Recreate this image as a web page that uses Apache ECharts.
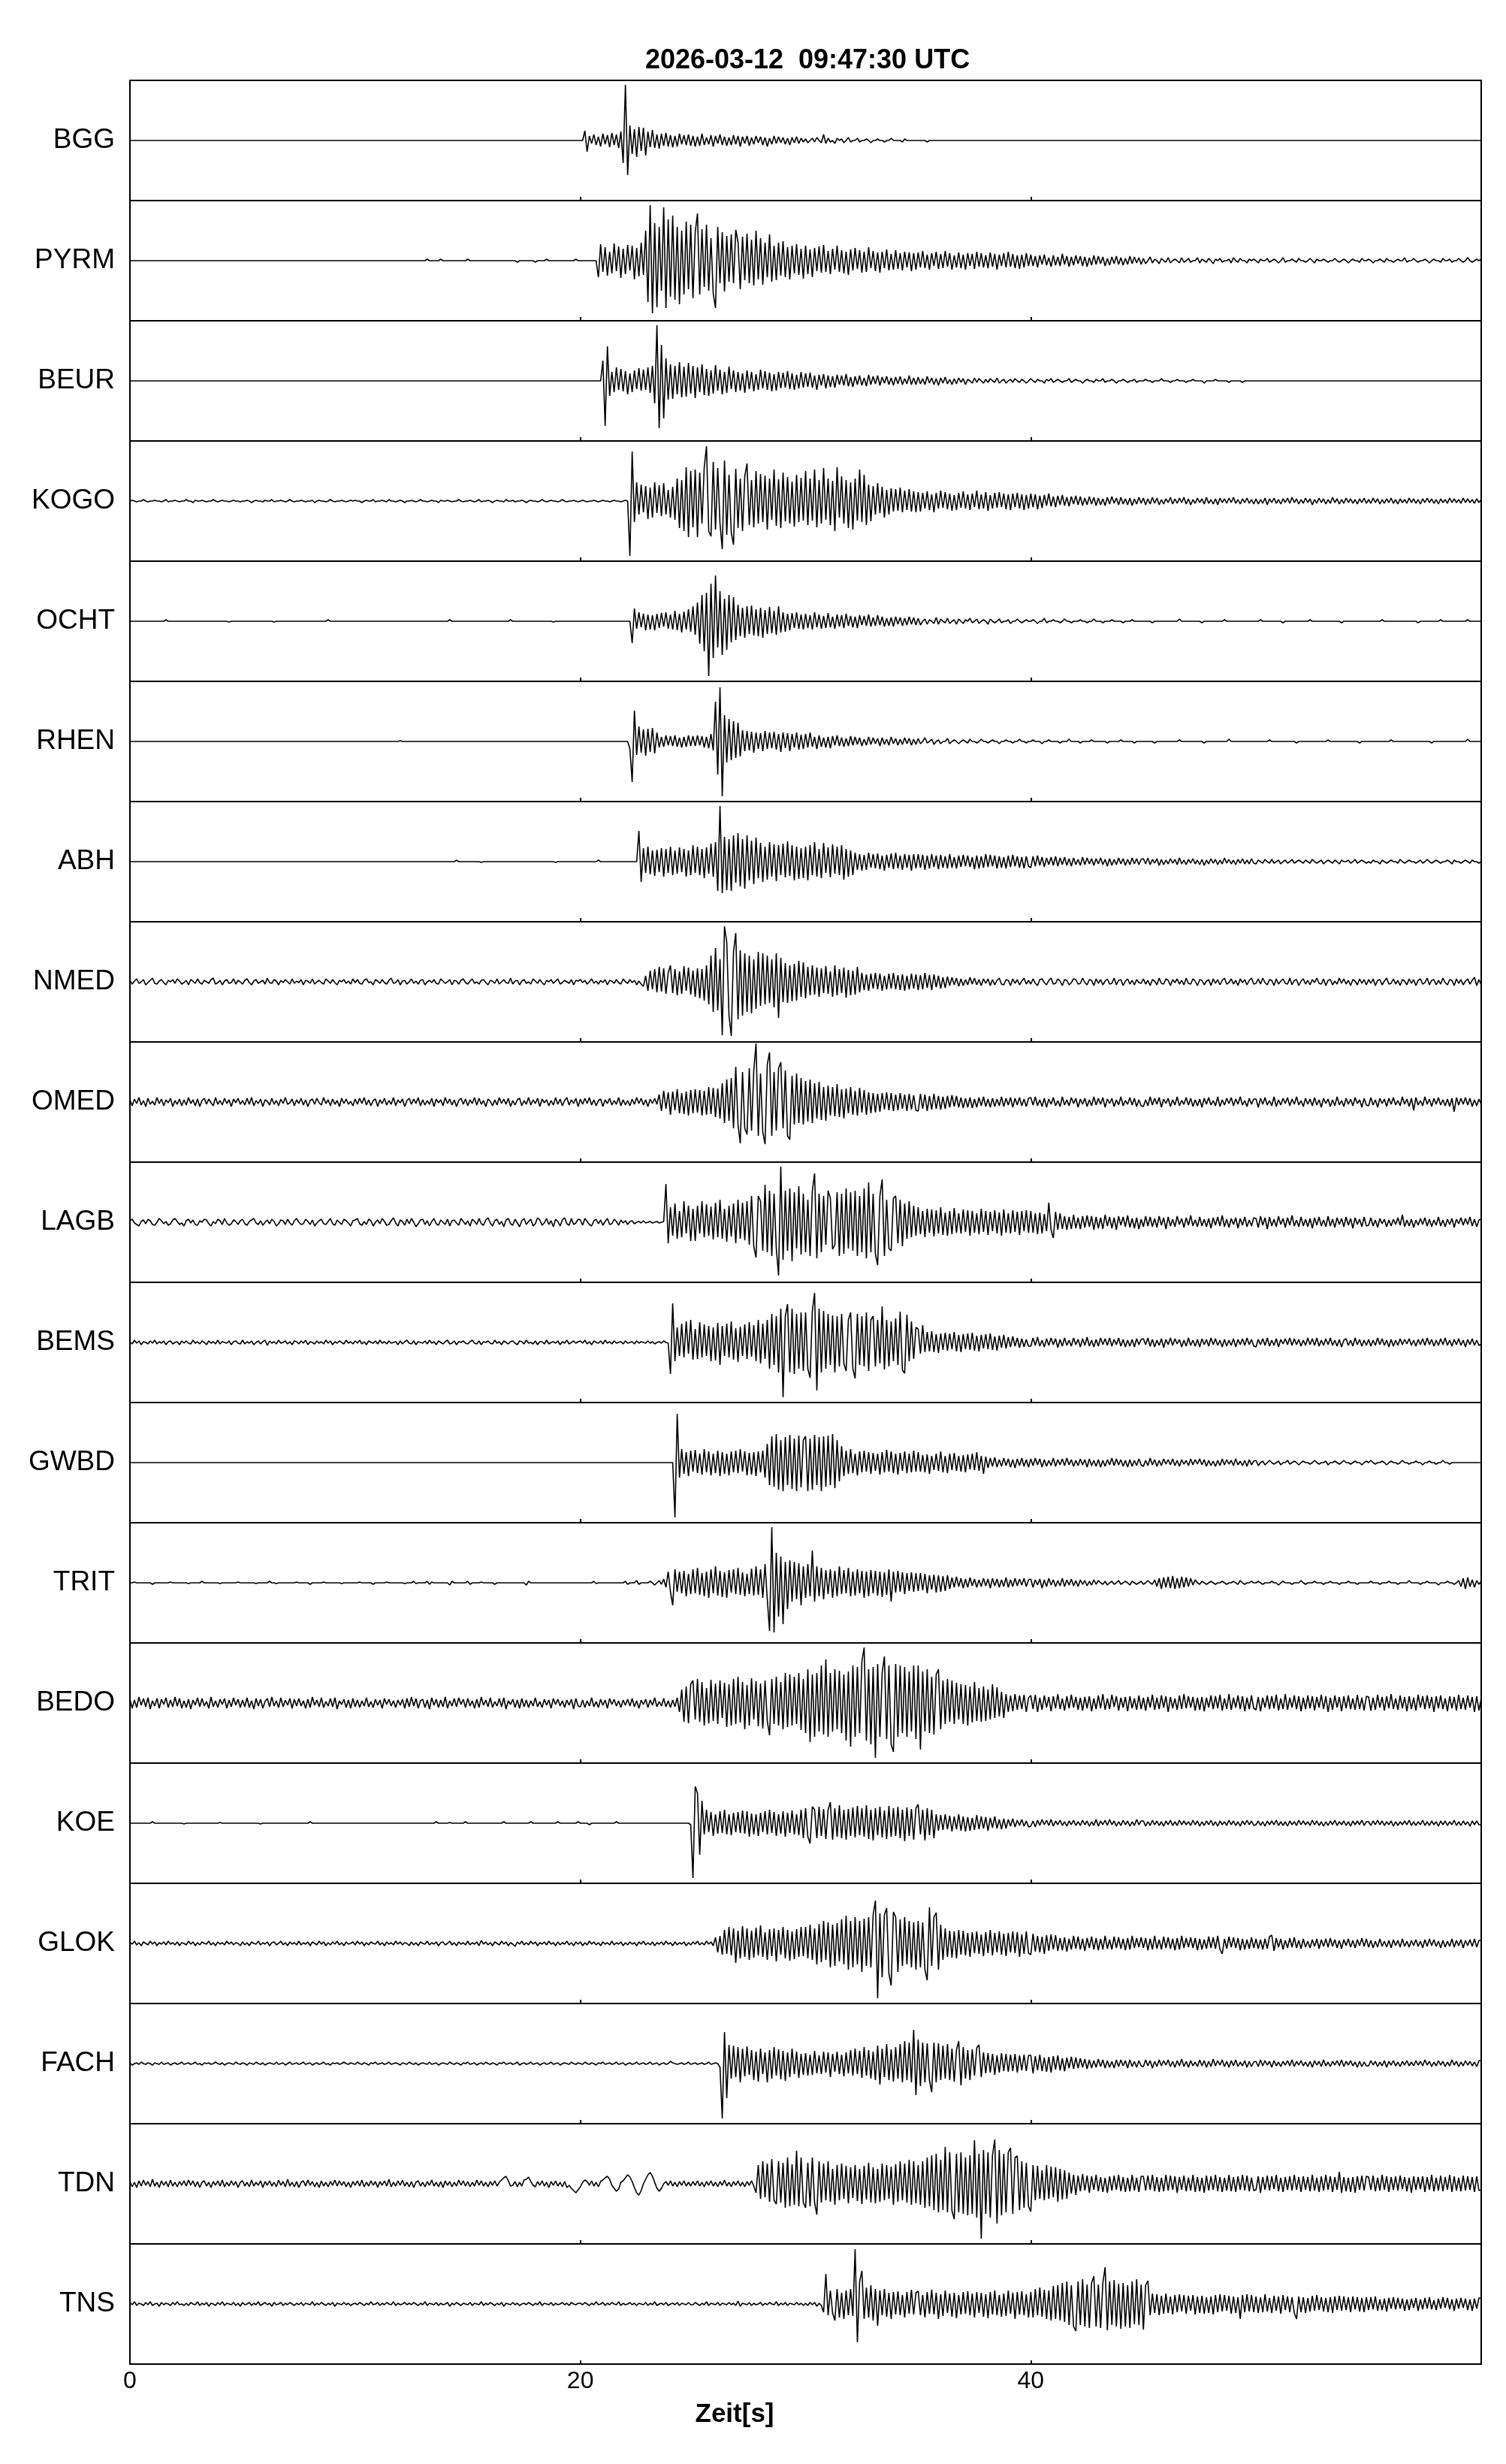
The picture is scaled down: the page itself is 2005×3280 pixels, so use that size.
<!DOCTYPE html>
<html><head><meta charset="utf-8">
<script src="https://cdn.jsdelivr.net/npm/echarts@6/dist/echarts.min.js"></script>
<style>html,body{margin:0;padding:0;background:#fff}#c{width:2005px;height:3280px}</style>
</head><body><div id="c"></div>
<script>
// sample spacing in seconds (each row below = 5 s = 50 samples)
const DT = 0.1;
const stations = ['BGG','PYRM','BEUR','KOGO','OCHT','RHEN','ABH','NMED','OMED','LAGB','BEMS','GWBD','TRIT','BEDO','KOE','GLOK','FACH','TDN','TNS'];
const xTickLabels = [0, 20, 40];
const titleText = '2026-03-12  09:47:30 UTC';
const xName = 'Zeit[s]';

const BGG = [
0,0,0,0,0,0,0,0,0,0, 0,0,0,0,0,0,0,0,0,0, 0,0,0,0,0,0,0,0,0,0, 0,0,0,0,0,0,0,0,0,0, 0,0,0,0,0,0,0,0,0,0,
0,0,0,0,0,0,0,0,0,0, 0,0,0,0,0,0,0,0,0,0, 0,0,0,0,0,0,0,0,0,0, 0,0,0,0,0,0,0,0,0,0, 0,0,0,0,0,0,0,0,0,0,
0,0,0,0,0,0,0,0,0,0, 0,0,0,0,0,0,0,0,0,0, 0,0,0,0,0,0,0,0,0,0, 0,0,0,0,0,0,0,0,0,0, 0,0,0,0,0,0,0,0,0,0,
0,0,0,0,0,0,0,0,0,0, 0,0,0,0,0,0,0,0,0,0, 0,0,0,0,0,0,0,0,0,0, 0,0,0,0,0,0,0,0,0,0, 0,0,0,0,0,0,0,0,0,0,
0,0,13,-15,6,-4,8,-6,5,-8, 9,-5,7,-9,10,-6,8,-10,12,-30, 74,-46,20,-18,15,-22,18,-14,17,-20, 12,-9,14,-10,8,-11,9,-7,10,-8, 7,-9,6,-8,9,-5,7,-6,8,-7,
6,-8,5,-7,9,-6,4,-5,7,-8, 6,-4,8,-6,5,-7,4,-6,7,-5, 6,-8,5,-4,6,-7,4,-5,6,-3, 5,-6,4,-8,3,-5,6,-4,5,-3, 4,-5,3,-6,4,-3,5,-4,3,-2,
2,-3,0,3,-2,4,0,-3,8,-4, 3,-2,0,-4,3,0,2,-3,0,4, -2,0,0,3,-2,0,0,2,0,-3, 0,0,2,0,0,-2,0,0,3,0, 0,0,0,-2,2,0,0,0,0,0,
0,0,0,0,-2,0,0,0,0,0, 0,0,0,0,0,0,0,0,0,0, 0,0,0,0,0,0,0,0,0,0, 0,0,0,0,0,0,0,0,0,0, 0,0,0,0,0,0,0,0,0,0,
0,0,0,0,0,0,0,0,0,0, 0,0,0,0,0,0,0,0,0,0, 0,0,0,0,0,0,0,0,0,0, 0,0,0,0,0,0,0,0,0,0, 0,0,0,0,0,0,0,0,0,0,
0,0,0,0,0,0,0,0,0,0, 0,0,0,0,0,0,0,0,0,0, 0,0,0,0,0,0,0,0,0,0, 0,0,0,0,0,0,0,0,0,0, 0,0,0,0,0,0,0,0,0,0,
0,0,0,0,0,0,0,0,0,0, 0,0,0,0,0,0,0,0,0,0, 0,0,0,0,0,0,0,0,0,0, 0,0,0,0,0,0,0,0,0,0, 0,0,0,0,0,0,0,0,0,0,
0,0,0,0,0,0,0,0,0,0, 0,0,0,0,0,0,0,0,0,0, 0,0,0,0,0,0,0,0,0,0, 0,0,0,0,0,0,0,0,0,0, 0,0,0,0,0,0,0,0,0,0,
0];
const PYRM = [
0,0,0,0,0,0,0,0,0,0, 0,0,0,0,0,0,0,0,0,0, 0,0,0,0,0,0,0,0,0,0, 0,0,0,0,0,0,0,0,0,0, 0,0,0,0,0,0,0,0,0,0,
0,0,0,0,0,0,0,0,0,0, 0,0,0,0,0,0,0,0,0,0, 0,0,0,0,0,0,0,0,0,0, 0,0,0,0,0,0,0,0,0,0, 0,0,0,0,0,0,0,0,0,0,
0,0,0,0,0,0,0,0,0,0, 0,0,0,0,0,0,0,0,0,0, 0,0,0,0,0,0,0,0,0,0, 0,0,2,0,0,0,0,0,2,0, 0,0,0,0,0,0,0,0,0,0,
2,0,0,0,0,0,0,0,0,0, 0,0,0,0,0,0,0,0,0,0, 0,0,-2,0,0,0,0,0,0,0, -2,0,0,0,0,2,0,0,0,0, 0,0,0,0,0,0,0,0,2,0,
0,0,0,0,0,0,0,0,-22,22, -15,18,-20,12,-17,23,-14,19,-23,16, -18,21,-13,20,-25,17,-21,24,-19,40, -55,74,-70,50,-62,45,-40,71,-63,55, -48,60,-52,45,-58,40,-45,52,-38,48,
-50,38,63,-45,42,-35,48,-40,30,-44, -63,45,-30,38,-41,33,-28,35,-30,41, 25,-38,32,-26,36,-30,28,-33,40,-25, 30,-32,24,-22,35,-28,20,-26,24,-20, 26,-22,18,-25,20,-17,22,-19,16,-24,
20,-18,15,-22,17,-14,19,-16,21,-15, 13,-18,16,-12,20,-15,14,-17,12,-19, 15,-13,17,-11,14,-16,12,-15,18,-10, 13,-14,11,-16,12,-10,15,-13,9,-12, 14,-11,10,-13,12,-9,11,-14,10,-12,
11,-9,13,-10,8,-12,10,-7,12,-11, 9,-10,13,-8,10,-12,7,-9,11,-10, 8,-12,10,-7,9,-11,12,-8,10,-9, 7,-10,11,-8,9,-12,8,-7,10,-9, 12,-8,9,-10,7,-11,8,-9,10,-7,
8,-7,6,-9,7,-5,8,-6,4,-8, 7,-6,5,-7,9,-5,6,-8,5,-6, 7,-4,6,-7,5,-8,4,-6,7,-5, 6,-4,5,-7,3,-6,5,-4,6,-5, 4,-6,3,-5,6,-4,5,-3,4,-5,
3,-4,0,5,-3,2,0,-4,3,0, -2,4,-3,0,2,0,-3,4,-2,0, 3,-2,0,0,4,-3,2,0,-2,3, 0,-4,2,0,3,-2,0,0,2,-3, 4,0,-2,3,0,0,-3,2,0,2,
0,-3,2,0,0,3,-2,0,2,0, -3,0,4,-2,0,0,2,0,-2,3, 0,0,-2,0,3,0,-3,2,0,0, 2,0,-2,0,0,3,0,-2,0,2, 0,-3,0,2,0,0,-2,3,0,0,
2,0,-3,0,0,2,0,-2,3,0, 0,-2,0,2,0,0,4,-2,0,0, 3,0,-2,0,0,2,0,-3,0,2, 0,0,-2,3,0,0,2,-2,0,0, 3,0,-2,0,4,0,-2,0,2,0,
2];
const BEUR = [
0,0,0,0,0,0,0,0,0,0, 0,0,0,0,0,0,0,0,0,0, 0,0,0,0,0,0,0,0,0,0, 0,0,0,0,0,0,0,0,0,0, 0,0,0,0,0,0,0,0,0,0,
0,0,0,0,0,0,0,0,0,0, 0,0,0,0,0,0,0,0,0,0, 0,0,0,0,0,0,0,0,0,0, 0,0,0,0,0,0,0,0,0,0, 0,0,0,0,0,0,0,0,0,0,
0,0,0,0,0,0,0,0,0,0, 0,0,0,0,0,0,0,0,0,0, 0,0,0,0,0,0,0,0,0,0, 0,0,0,0,0,0,0,0,0,0, 0,0,0,0,0,0,0,0,0,0,
0,0,0,0,0,0,0,0,0,0, 0,0,0,0,0,0,0,0,0,0, 0,0,0,0,0,0,0,0,0,0, 0,0,0,0,0,0,0,0,0,0, 0,0,0,0,0,0,0,0,0,0,
0,0,0,0,0,0,0,0,0,0, 27,-60,46,-20,12,-15,18,-12,16,-14, 13,-18,10,-15,14,-11,17,-13,15,-12, 18,-16,20,-30,74,-63,48,-50,30,-25, 22,-24,20,-18,25,-22,19,-21,24,-17,
20,-23,18,-15,22,-19,16,-20,14,-17, 21,-13,15,-18,12,-16,19,-11,14,-15, 12,-13,10,-16,14,-11,12,-14,9,-12, 15,-10,13,-12,11,-14,9,-13,12,-10, 11,-9,13,-11,10,-12,8,-10,12,-9,
10,-8,11,-9,7,-12,8,-6,9,-10, 7,-8,6,-9,8,-5,7,-6,9,-7, 5,-8,6,-5,7,-6,4,-7,8,-5, 6,-4,7,-6,5,-3,6,-5,4,-6, 5,-4,6,-5,3,-4,7,-5,4,-5,
5,-4,3,-5,6,-3,4,-5,3,-6, 4,-3,5,-4,2,-5,3,-4,4,-2, 3,-5,2,0,-3,4,-2,3,0,-3, 2,-2,3,0,-2,4,-3,0,2,-3, 0,2,-2,3,0,-2,2,0,-3,0,
3,0,-2,2,0,0,-3,2,0,3, -2,0,2,0,-2,0,0,3,-2,0, 2,0,0,-3,0,2,0,0,-2,2, 0,0,3,-2,0,0,2,0,-3,0, 0,2,0,-2,0,0,2,-2,0,0,
0,2,0,0,-2,0,0,0,3,0, 0,0,-2,0,0,2,0,0,0,-2, 0,0,2,0,0,0,0,-3,0,0, 0,0,2,0,0,0,0,0,-2,0, 0,0,0,0,-2,0,0,0,0,0,
0,0,0,0,0,0,0,0,0,0, 0,0,0,0,0,0,0,0,0,0, 0,0,0,0,0,0,0,0,0,0, 0,0,0,0,0,0,0,0,0,0, 0,0,0,0,0,0,0,0,0,0,
0,0,0,0,0,0,0,0,0,0, 0,0,0,0,0,0,0,0,0,0, 0,0,0,0,0,0,0,0,0,0, 0,0,0,0,0,0,0,0,0,0, 0,0,0,0,0,0,0,0,0,0,
0];
const KOGO = [
0,1,0,-1,0,0,2,0,-1,0, 0,1,0,0,-1,0,2,-1,0,0, 1,0,-1,0,0,2,0,0,-2,1, 0,0,1,0,-1,0,0,2,0,-1, 0,1,0,0,-1,0,1,0,0,-1,
0,0,1,0,-2,0,1,0,0,-1, 1,0,0,2,-1,0,0,1,0,-1, 0,2,0,-1,0,0,1,0,-1,0, 0,1,-2,0,1,0,0,-1,0,2, 0,-1,0,0,1,0,-1,0,1,0,
1,0,0,-2,0,1,0,0,2,-1, 0,0,1,0,-1,2,0,0,-1,0, 1,0,-2,0,0,1,0,-1,0,2, 0,0,-1,0,1,0,0,-2,1,0, 0,1,0,-1,0,0,2,0,-1,0,
0,1,0,-1,0,2,-1,0,0,1, 0,-2,0,1,0,0,-1,2,0,0, 1,-1,0,0,1,0,-2,0,1,0, 0,-1,0,2,0,-1,0,1,0,0, -1,0,2,0,-1,0,0,1,0,-1,
0,1,0,-1,0,0,1,0,-1,0, 1,0,0,-1,0,1,0,0,-1,0, 1,0,-73,66,-28,25,-18,22,-15,20, -24,18,-22,25,-16,21,-20,24,-18,15, -22,19,-25,30,-36,28,-40,45,-48,40,
-35,42,-48,38,-30,45,73,-40,-47,52, -38,44,-30,-64,54,-45,35,-42,-58,43, -36,30,-40,33,50,-32,28,-35,40,-30, 36,-28,34,-38,30,-25,42,-33,29,-36, 38,-27,32,-30,26,-34,35,-28,31,-26,
40,-32,30,-26,42,-35,28,-30,44,-25, 30,-32,27,-40,45,-22,33,-30,28,-36, 25,-38,30,-26,42,-28,35,-32,22,-27, 20,-18,24,-16,19,-22,15,-18,17,-14, 16,-13,18,-15,14,-12,16,-14,13,-15,
12,-14,11,-10,13,-12,9,-15,11,-10, 14,-9,12,-11,10,-13,8,-12,11,-9, 13,-10,9,-12,10,-8,14,-11,9,-10, 12,-13,8,-10,11,-9,12,-8,10,-11, 9,-12,10,-8,11,-10,9,-12,8,-10,
10,-8,9,-11,7,-9,8,-6,10,-7, 6,-8,7,-5,8,-6,5,-7,6,-4, 7,-5,6,-6,4,-5,6,-4,5,-6, 4,-5,3,-6,5,-4,6,-3,4,-5, 5,-4,3,-5,4,-6,3,-4,5,-3,
4,-5,3,-4,5,-3,4,-5,2,-4, 3,-2,5,-4,3,-3,4,-2,5,-4, 3,-5,2,-3,4,-2,3,-4,5,-3, 2,-4,3,-5,4,-2,3,-3,4,-2, 5,-3,2,-4,3,-2,4,-3,2,-4,
3,-4,2,-3,4,-5,3,-2,4,-3, 2,-4,3,-2,4,-3,5,-2,3,-4, 2,-3,4,-2,3,-5,2,-3,4,-2, 3,-4,2,-3,5,-2,3,-4,2,-3, 4,-2,3,-3,2,-4,3,-2,4,-3,
2,-3,4,-2,3,-4,2,-3,3,-2, 4,-3,2,-4,3,-2,2,-3,4,-2, 3,-3,2,-4,3,-2,4,-2,3,-3, 2,-4,3,-2,2,-3,4,-2,3,-2, 2,-3,4,-2,3,-2,2,-3,3,-2,
2];
const OCHT = [
0,0,0,0,0,0,0,0,0,0, 0,0,0,0,0,0,2,0,0,0, 0,0,0,0,0,0,0,0,0,0, 0,0,0,0,0,0,0,0,0,0, 0,0,0,0,-1,0,0,0,0,0,
0,0,0,0,0,0,0,0,0,0, 0,0,0,0,-1,0,0,0,0,0, 0,0,0,0,0,0,0,0,0,0, 0,0,0,0,0,0,0,0,2,0, 0,0,0,0,0,0,0,0,0,0,
0,0,0,0,0,0,0,0,0,0, 0,0,0,0,0,0,0,0,0,0, 0,0,0,0,0,0,0,0,0,0, 0,0,0,0,0,0,0,0,0,0, 0,0,2,0,0,0,0,0,0,0,
0,0,0,0,0,0,0,0,0,0, 0,0,0,0,0,0,0,0,0,2, 0,0,0,0,0,0,0,0,0,0, 0,0,0,0,0,0,0,0,-1,0, 0,0,0,0,0,0,0,0,0,0,
0,0,0,0,0,0,0,0,0,0, 0,0,0,0,0,0,0,0,0,0, 0,0,0,-29,17,-10,12,-8,10,-12, 9,-11,8,-12,10,-9,11,-7,12,-10, 9,-11,14,-12,10,-15,13,-11,16,-14,
20,-18,25,-30,35,-40,38,-73,50,-49, 61,-35,40,-45,30,-38,35,-28,32,-25, 22,-20,18,-22,20,-17,21,-19,16,-20, 18,-22,15,-17,19,-16,14,-18,20,-15, 12,-14,10,-12,11,-9,12,-10,9,-11,
10,-9,8,-11,12,-8,9,-10,7,-9, 11,-8,6,-10,9,-7,8,-9,10,-6, 7,-8,6,-9,8,-5,7,-6,9,-7, 5,-6,8,-5,6,-7,4,-6,5,-7, 6,-4,5,-6,4,-5,6,-4,5,-5,
4,-5,0,3,-4,2,0,-3,5,-4, 3,0,-2,4,-3,0,2,-4,3,0, -3,2,0,4,-2,0,3,-3,0,2, 0,-4,3,0,-2,0,3,-2,0,0, 2,-3,0,0,3,0,-2,0,2,0,
0,2,0,-3,0,0,4,-2,0,0, 2,0,0,-2,0,3,0,0,-2,0, 0,0,2,0,0,-2,0,0,3,0, 0,0,-2,0,0,0,2,0,0,0, 0,-2,0,0,0,2,0,0,0,0,
0,0,0,0,-2,0,0,0,0,0, 0,0,0,0,0,0,3,0,0,0, 0,0,0,0,0,0,-2,0,0,0, 0,0,0,0,0,0,2,0,0,0, 0,0,0,0,0,0,0,0,0,0,
0,0,2,0,0,0,0,0,0,0, 0,0,-2,0,0,0,0,0,0,0, 0,0,0,0,2,0,0,0,0,0, 0,0,0,0,0,0,0,0,-2,0, 0,0,0,0,0,0,0,0,0,0,
0,0,0,0,0,0,2,0,0,0, 0,0,0,0,0,0,0,0,0,0, 0,0,-2,0,0,0,0,0,0,0, 0,0,2,0,0,0,0,0,0,0, 0,0,0,0,2,0,0,0,0,0,
0];
const RHEN = [
0,0,0,0,0,0,0,0,0,0, 0,0,0,0,0,0,0,0,0,0, 0,0,0,0,0,0,0,0,0,0, 0,0,0,0,0,0,0,0,0,0, 0,0,0,0,0,0,0,0,0,0,
0,0,0,0,0,0,0,0,0,0, 0,0,0,0,0,0,0,0,0,0, 0,0,0,0,0,0,0,0,0,0, 0,0,0,0,0,0,0,0,0,0, 0,0,0,0,0,0,0,0,0,0,
0,0,0,0,0,0,0,0,0,0, 0,0,0,0,0,0,0,0,0,0, 1,0,0,0,0,0,0,0,0,0, 0,0,0,0,0,0,0,0,0,0, 0,0,0,0,0,0,0,0,0,0,
0,0,0,0,0,0,0,0,0,0, 0,0,0,0,0,0,0,0,0,0, 0,0,0,0,0,0,0,0,0,0, 0,0,0,0,0,0,0,0,0,0, 0,0,0,0,0,0,0,0,0,0,
0,0,0,0,0,0,0,0,0,0, 0,0,0,0,0,0,0,0,0,0, 0,0,-10,-54,41,-18,20,-15,16,-19, 17,-14,18,-16,12,-8,6,-7,8,-5, 7,-6,8,-7,5,-8,6,-7,8,-6,
7,-6,8,-5,7,-8,6,-9,10,-12, 53,-44,72,-73,35,-28,30,-25,27,-22, 25,-20,15,-13,14,-12,13,-15,12,-10, 11,-13,14,-10,12,-9,13,-11,10,-14, 12,-9,11,-13,10,-8,12,-11,9,-10,
10,-8,12,-7,6,-10,8,-7,5,-8, 6,-9,7,-5,8,-6,5,-7,4,-6, 7,-5,6,-4,5,-6,3,-5,6,-4, 5,-3,4,-6,5,-4,3,-5,6,-3, 4,-5,3,-4,5,-3,4,-5,3,-4,
4,-3,0,5,-2,0,3,-4,0,2, -3,0,0,4,-3,0,2,0,-3,0, 2,0,-2,3,0,0,-2,0,3,0, 0,-2,0,2,0,0,-3,0,0,2, 0,0,-2,0,0,3,0,0,-2,0,
0,2,0,0,0,-3,0,0,2,0, 0,0,0,-2,0,0,0,3,0,0, 0,0,-2,0,0,0,0,2,0,0, 0,0,0,0,-2,0,0,0,0,0, 2,0,0,0,0,0,-2,0,0,0,
0,0,0,0,0,-2,0,0,0,0, 0,0,0,0,0,0,2,0,0,0, 0,0,0,0,0,0,0,-2,0,0, 0,0,0,0,0,0,0,0,3,0, 0,0,0,0,0,0,0,0,0,0,
0,0,0,0,0,0,2,0,0,0, 0,0,0,0,0,0,0,0,-2,0, 0,0,0,0,0,0,0,0,0,0, 0,0,2,0,0,0,0,0,0,0, 0,0,0,0,0,0,-2,0,0,0,
0,0,0,0,0,0,0,0,0,0, 2,0,0,0,0,0,0,0,0,0, 0,0,0,0,0,0,0,0,-2,0, 0,0,0,0,0,0,0,0,0,0, 0,0,0,0,3,0,0,0,0,0,
0];
const ABH = [
0,0,0,0,0,0,0,0,0,0, 0,0,0,0,0,0,0,0,0,0, 0,0,0,0,0,0,0,0,0,0, 0,0,0,0,0,0,0,0,0,0, 0,0,0,0,0,0,0,0,0,0,
0,0,0,0,0,0,0,0,0,0, 0,0,0,0,0,0,0,0,0,0, 0,0,0,0,0,0,0,0,0,0, 0,0,0,0,0,0,0,0,0,0, 0,0,0,0,0,0,0,0,0,0,
0,0,0,0,0,0,0,0,0,0, 0,0,0,0,0,0,0,0,0,0, 0,0,0,0,0,0,0,0,0,0, 0,0,0,0,0,0,0,0,0,0, 0,0,0,0,0,2,0,0,0,0,
0,0,0,0,0,0,-1,0,0,0, 0,0,0,0,0,0,0,0,0,0, 0,0,0,0,0,0,0,0,0,0, 0,0,0,0,0,0,0,0,0,-1, 0,0,0,0,0,0,0,0,0,0,
0,0,0,0,0,0,0,0,2,0, 0,0,0,0,0,0,0,0,0,0, 0,0,0,0,0,0,41,-27,18,-15, 20,-17,15,-19,16,-14,18,-20,17,-15, 20,-18,15,-16,19,-14,17,-20,15,-18,
22,-15,20,-18,17,-22,19,-16,24,-20, 26,-39,74,-42,33,-38,30,-39,35,-28, 38,-33,30,-36,35,-25,28,-30,32,-22, 25,-27,20,-24,26,-20,23,-26,22,-18, 24,-21,27,-19,22,-25,20,-23,18,-22,
20,-25,22,-18,26,-20,17,-22,25,-15, 19,-21,23,-16,20,-18,22,-24,17,-20, 15,-18,12,-11,10,-12,9,-11,12,-8, 10,-9,11,-10,8,-12,9,-8,11,-10, 12,-9,8,-11,10,-8,9,-12,10,-9,
10,-8,9,-11,8,-9,10,-7,8,-10, 9,-8,7,-9,10,-8,6,-9,8,-7, 9,-6,8,-7,6,-10,8,-9,7,-8, 10,-7,9,-6,8,-9,7,-8,6,-9, 8,-7,9,-6,7,-8,6,-9,7,-6,
-8,7,-6,8,-5,6,-7,5,-4,6, -5,7,-6,5,-4,6,-5,4,-6,5, -4,3,-5,6,-4,5,-3,4,-5,4, -3,5,-4,3,-6,4,-5,3,-4,5, -3,4,-5,3,-4,5,-3,4,-4,3,
4,-3,5,-4,3,-2,4,-5,3,-4, 2,-3,4,-2,3,-4,5,-3,2,-4, 3,-2,4,-3,2,-4,3,-5,2,-3, 4,-2,3,-4,2,-3,5,-2,3,-3, 2,-4,3,-2,4,-3,2,-3,4,-2,
-3,2,0,-2,3,0,-2,3,-2,0, 2,-3,0,2,-2,0,3,-2,0,2, 0,-2,2,0,-2,3,0,-2,0,2, -3,0,2,0,-2,2,0,-3,2,0, 0,2,-2,0,3,-2,0,2,0,-2,
0,-2,2,0,0,-3,2,0,-2,0, 2,0,0,-2,3,0,-2,0,2,0, 0,-2,0,2,-2,0,3,0,-2,0, 2,0,-2,0,0,2,0,-3,2,0, 0,-2,0,2,0,-2,2,0,0,-2,
0];
const NMED = [
2,-3,1,4,-2,0,3,-4,-1,2, 5,-2,-3,1,3,-1,-4,2,0,3, -2,4,1,-3,-1,2,-4,3,1,-2, 4,-1,-3,2,0,-2,3,5,-3,-1, 2,-4,1,3,-2,-1,4,-3,2,0,
-3,2,4,-1,-4,1,3,-2,0,2, -3,5,-1,-2,3,1,-4,2,-1,3, 0,-3,4,-2,1,-1,3,-4,2,1, -2,4,-3,0,2,-1,-3,4,1,-2, 3,-1,-4,2,0,3,-2,1,-3,4,
-1,3,-2,-3,2,4,-1,0,-4,3, 1,-2,3,-1,-3,2,5,-2,-1,3, -4,1,2,-3,0,4,-2,1,-3,2, 3,-4,0,2,-1,3,-2,-3,4,1, -2,0,3,-4,2,1,-3,2,4,-1,
-3,1,4,-2,0,-3,2,3,-1,-4, 2,1,-2,4,-3,0,3,-1,-2,5, -3,1,2,-4,1,3,-2,0,-3,4, 1,-2,3,-1,-4,2,0,3,-2,1, 4,-3,-1,2,0,-2,3,-4,2,1,
3,-1,2,-3,0,4,-2,1,-3,2, -1,3,-4,2,1,-2,3,-1,-3,4, 0,-2,3,-1,2,-4,1,-3,-6,8, -12,15,-10,17,-14,20,-13,18,-16,12, 22,-15,17,-18,14,-16,21,-12,19,-17,
15,-20,18,-22,17,-25,22,-30,35,-40, 45,-38,30,-71,74,53,-45,-72,40,65, -50,42,-45,38,-40,35,-42,30,-36,40, -32,38,-30,35,-28,30,-34,38,-48,32, -27,25,-28,22,-26,24,-25,28,-20,26,
-22,20,-18,22,-17,19,-20,18,-15,21, -16,14,-20,22,-18,17,-15,19,-21,16, -18,15,-17,20,-14,12,-11,10,-12,11, -9,12,-10,11,-12,8,-10,11,-9,12, -10,9,-11,10,-12,8,-10,11,-9,10,
-11,9,-10,12,-8,9,-11,10,-7,8, -9,6,-8,7,-5,6,-4,5,-6,4, -5,3,-4,6,-3,5,-4,3,-5,4, -2,4,-5,3,-4,2,5,-3,-4,3, 2,-5,4,-2,3,-4,1,5,-3,2,
-3,4,-2,-5,3,4,-1,-4,2,5, -3,-2,4,1,-5,3,2,-4,-1,4, 3,-3,-2,5,-1,-4,3,2,-5,4, -2,3,-4,1,4,-3,-2,5,-4,2, 3,-5,1,4,-3,2,-4,3,-1,-2,
4,-3,2,-5,3,1,-4,5,-2,-3, 4,2,-5,3,-1,4,-3,2,-4,5, -2,-3,4,1,-5,3,2,-4,1,3, -5,4,-2,3,-4,2,5,-3,-1,4, -3,2,-5,4,-1,3,-4,2,5,-3,
-2,4,-3,5,-1,-4,3,2,-5,4, -3,1,4,-2,-3,5,-4,2,3,-5, 1,4,-3,2,-4,3,-1,5,-2,-3, 4,-5,2,3,-4,1,-3,5,-2,4, -3,2,-5,3,1,-4,4,-2,3,-4,
3,-2,4,-5,2,3,-4,1,5,-3, -2,4,-3,2,-5,3,1,-4,4,-2, 3,-5,2,4,-3,-1,5,-4,2,3, -4,2,-3,5,-1,-4,3,2,-5,4, -2,3,-4,1,4,-3,2,6,-5,3,
-4];
const OMED = [
3,-5,4,-2,6,-4,2,-6,5,-3, 1,-4,6,-2,4,-5,3,-1,5,-6, 2,-3,4,-5,3,-4,6,-2,3,-5, 4,-6,2,5,-3,4,-1,-5,6,-3, 2,-4,5,-2,3,-6,4,-1,5,-3,
2,-4,5,-3,6,-5,2,-2,4,-6, 3,1,-4,5,-3,2,-5,4,-2,6, -3,-1,4,-5,3,-2,5,-4,3,-6, 2,4,-3,5,-1,-4,6,-2,3,-5, 4,-3,2,-6,5,-2,4,-3,1,-5,
4,-3,5,-2,6,-4,3,-5,2,4, -6,3,-2,5,-4,2,-3,6,-5,3, -1,4,-6,2,5,-3,4,-2,6,-5, 3,-4,2,-3,5,-6,4,-1,3,-5, 6,-2,4,-4,3,-6,2,5,-3,4,
-5,3,-2,6,-4,5,-3,2,-6,4, 1,-5,3,-4,6,-2,4,-3,5,-6, 2,-4,3,5,-5,2,-3,6,-4,3, -2,5,-6,4,-1,3,-5,2,-4,6, -3,4,-5,2,6,-4,3,-2,5,-6,
4,-3,5,-2,6,-4,3,-5,2,4, -6,3,-2,5,-4,2,-3,6,-5,3, -4,2,-5,4,-3,6,-2,5,-4,3, -6,4,-2,5,-3,10,-12,15,-9,13, -17,14,-11,17,-15,12,-16,14,-18,16,
-15,17,-14,16,-18,15,-17,20,-16,19, -20,18,-22,25,-28,30,-25,32,-35,47, -30,-55,40,-35,-43,45,-38,42,78,-45, 38,-40,-56,50,66,-45,40,-38,45,53, -35,42,-45,-50,35,-30,38,-28,32,-30,
28,-26,30,-28,25,-22,27,-24,20,-25, 22,-18,20,-19,24,-20,17,-22,18,-15, 20,-17,15,-18,19,-14,16,-17,13,-15, 12,-14,11,-13,12,-10,13,-11,12,-12, 10,-11,12,-9,10,-12,11,-10,9,-11,
-12,11,-9,10,-12,8,-10,11,-9,8, -10,7,-9,8,-7,9,-6,8,-7,6, -8,5,-7,6,-8,4,-7,6,-5,7, -6,4,-7,5,-6,4,-5,7,-6,5, -4,6,-7,5,-4,6,-5,4,-6,5,
6,-4,7,-5,3,-6,5,-7,4,-3, 6,-5,2,-6,7,-4,3,-5,6,-2, 5,-7,4,-3,5,-6,3,-5,7,-4, 5,-3,6,-7,4,-2,5,-6,3,-4, 7,-5,2,-3,6,-4,5,-6,3,-5,
-6,3,-5,7,-4,5,-3,6,-7,4, -2,5,-6,3,-4,7,-5,2,-3,6, -4,5,-6,3,-5,4,-7,5,-3,6, -4,2,-5,7,-6,3,-4,5,-2,6, -5,4,-3,7,-4,2,-6,5,-3,4,
4,-7,5,-3,6,-4,2,-5,7,-6, 3,-4,5,-2,6,-5,4,-3,7,-4, 2,-6,5,-3,4,-5,6,-4,3,-7, 5,-2,4,-6,3,-5,7,-4,2,-6, 5,-3,4,-5,6,-2,3,-7,5,-4,
-5,6,-4,3,-7,5,-2,4,-6,5, -3,6,-4,2,-5,7,-3,4,-6,5, -11,6,-4,2,-5,7,-3,4,-6,5, -3,6,-4,3,-5,4,-6,5,-13,6, -4,5,-3,6,-4,5,-6,3,-5,4,
-3];
const LAGB = [
2,4,-1,-3,-5,1,3,-2,4,2, -3,-4,0,5,2,-2,1,-4,-2,3, 5,1,-3,-1,-5,2,4,-1,3,-3, -4,2,0,4,3,-2,-5,1,-2,4, 2,-3,5,-1,-4,-2,3,1,-3,2,
4,-2,-4,1,3,5,-1,-3,2,-4, 0,3,-2,4,1,-5,-2,3,2,-3, 4,-1,-4,2,5,0,-3,-2,4,1, -3,3,-5,-1,2,4,-2,-3,1,5, -2,-4,3,0,-3,4,2,-1,-5,2,
3,5,-2,-4,1,-3,4,2,-5,0, 3,-2,5,1,-4,-3,2,6,-1,-5, 3,1,-4,4,-2,5,0,-6,-2,3, 4,-3,2,-5,1,5,-2,-4,3,0, -3,4,-5,2,3,-1,-4,5,1,-3,
2,-5,4,1,-3,5,-2,-4,3,6, -1,-5,2,4,-3,1,-6,3,5,-2, -4,4,-1,-6,2,5,-3,1,4,-5, -2,6,3,-4,-1,5,-3,2,-6,4, 1,-5,3,6,-2,-4,5,-3,-1,4,
3,-4,5,1,-3,-5,2,4,-2,3, -4,1,5,-3,-2,4,1,-4,3,-1, 2,-3,1,2,-2,0,1,-1,2,-1, 0,1,-1,0,1,-1,0,1,51,-28, 20,-18,25,-22,15,-20,28,-15,22,-25,
18,-25,22,-15,28,-20,24,-18,21,-23, 26,-20,30,-22,18,-26,22,-19,25,-28, 30,-22,26,-24,28,-30,35,-32,-47,35, 28,-38,50,-40,42,-45,38,-35,-71,74, -50,42,-38,45,-52,40,-35,48,-43,38,
-40,30,-45,42,65,-48,38,-40,35,-30, 42,32,-36,-30,40,-45,38,-42,45,-35, 40,-38,42,-45,35,-40,45,-48,53,-40, 38,-42,-57,35,57,-45,30,-35,-38,32, 35,-28,30,-32,25,-22,28,-20,22,-18,
20,-16,15,-20,18,-14,17,-19,16,-15, 20,-17,13,-18,15,-16,19,-14,12,-15, 17,-13,16,-18,15,-14,12,-16,18,-13, 15,-17,14,-12,16,-15,13,-18,17,-14, 12,-15,16,-13,14,-17,15,-12,16,-14,
15,-14,12,-16,13,-15,11,-12,26,-10, -21,14,-10,12,-9,8,-10,7,-9,10, -8,6,-9,8,-7,9,-6,8,-10,7, -8,6,-9,10,-5,7,-8,6,-10,8, -4,7,-6,9,-7,5,-8,6,-9,4,
-6,8,-5,7,-6,5,-7,8,-4,6, -9,7,-5,4,-6,8,-3,5,-7,6, -4,9,-5,3,-6,7,-5,4,-6,5, -8,6,-4,7,-5,9,-6,4,-7,5, -3,6,-8,5,-4,7,-6,3,-5,6,
5,-7,8,-4,6,-9,7,-5,4,-6, 8,-3,5,-7,6,-4,9,-5,3,-6, 7,-5,4,-6,5,-8,6,-4,7,-5, 3,-6,8,-5,4,-7,6,-3,5,-6, 7,-4,5,-8,6,-3,4,-6,7,-5,
-4,6,-5,3,-7,5,-2,4,-6,3, -5,4,-3,6,-4,10,-6,3,-5,4, -7,3,-4,5,-3,6,-5,4,-6,3, -4,7,-5,3,-6,4,-3,5,-7,4, -2,6,-4,5,-3,7,-5,4,-6,3,
4];
const BEMS = [
1,-2,3,-1,2,-3,1,0,-2,2, -1,3,-2,1,-1,2,-3,1,2,-2, 0,1,-3,2,-1,2,-1,-2,3,-1, 1,-2,2,0,-3,2,-1,1,-2,3, -2,1,0,-1,2,-3,1,2,-1,-2,
3,-2,1,-1,2,-3,0,2,-2,1, 3,-4,2,-1,1,-2,3,-1,0,2, -2,1,-3,2,1,-2,2,-1,3,-3, 1,0,-2,2,-1,1,-2,3,-1,2, -3,1,-1,2,0,-2,3,-1,1,-2,
2,-1,3,-2,1,-3,2,0,-1,2, -2,3,-1,1,-2,2,-1,0,1,-3, 2,-2,1,3,-1,-2,2,-3,1,0, -1,2,-2,3,-1,1,-3,2,0,-2, 1,3,-2,-1,2,-3,1,0,2,-1,
-2,1,3,-1,-2,2,-3,1,0,2, -1,-2,3,-1,1,-3,2,0,-2,1, 2,-1,-3,2,1,-2,3,-1,0,-2, 2,-3,1,1,-2,3,-2,0,1,-1, 2,-3,1,-1,3,-2,0,2,-1,1,
2,-1,3,-2,1,-3,2,0,-1,2, -2,3,-1,1,-2,2,-1,0,1,-2, 2,-1,0,1,-2,2,-1,1,0,-1, 2,-1,1,-2,0,1,-1,2,0,-1, -42,52,-25,20,-18,25,-20,28,-15,30,
-23,18,-22,27,-20,24,-18,22,-25,20, -24,26,-30,22,-18,25,-20,28,-23,19, -26,21,-18,24,-22,27,-19,23,-25,30, -28,25,-22,30,-35,38,-30,35,-40,45, -73,35,51,-40,45,-42,38,-35,40,-38,
40,-35,-47,42,66,-64,45,-40,42,-35, 38,-30,36,-40,35,-32,38,-28,-38,30, 40,-35,-48,38,-30,35,-32,40,-38,30, 35,-32,30,-28,48,-36,30,-32,28,-25, 32,-30,41,-37,-41,37,-25,28,-22,20,
18,-15,23,-13,14,-12,15,-13,11,-14, 12,-10,13,-11,12,-9,14,-12,10,-13, 11,-9,12,-10,13,-11,9,-12,10,-8, 11,-9,12,-10,8,-11,9,-7,10,-8, 7,-6,8,-5,6,-7,5,-6,4,-5,
-5,6,-4,7,-5,3,-6,5,-4,6, -3,5,-7,4,-5,6,-4,3,-5,6, -3,4,-6,5,-4,7,-5,3,-6,4, -5,6,-3,5,-4,6,-5,4,-3,6, -5,4,-6,3,-5,4,-6,5,-3,4,
5,-3,6,-5,4,-6,3,-4,5,-7, 4,-3,6,-4,5,-2,4,-6,3,-5, 6,-4,3,-5,4,-6,5,-3,4,-5, 6,-3,5,-4,3,-6,4,-5,3,-4, 5,-6,4,-3,5,-4,6,-3,4,-5,
-6,4,-3,5,-4,6,-5,3,-4,5, -6,4,-2,5,-3,6,-4,5,-3,4, -5,3,-4,6,-3,5,-4,6,-5,3, -4,5,-3,6,-4,3,-5,4,-6,3, 5,-4,3,-5,6,-3,4,-5,3,-4,
4,-5,3,-4,6,-3,5,-4,3,-6, 4,-5,3,-4,5,-3,4,-2,5,-4, 3,-5,4,-3,5,-4,6,-3,4,-5, 3,-4,5,-3,6,-4,3,-5,4,-3, 5,-4,3,-6,4,-3,5,-4,3,-4,
-2];
const GWBD = [
0,0,0,0,0,0,0,0,0,0, 0,0,0,0,0,0,0,0,0,0, 0,0,0,0,0,0,0,0,0,0, 0,0,0,0,0,0,0,0,0,0, 0,0,0,0,0,0,0,0,0,0,
0,0,0,0,0,0,0,0,0,0, 0,0,0,0,0,0,0,0,0,0, 0,0,0,0,0,0,0,0,0,0, 0,0,0,0,0,0,0,0,0,0, 0,0,0,0,0,0,0,0,0,0,
0,0,0,0,0,0,0,0,0,0, 0,0,0,0,0,0,0,0,0,0, 0,0,0,0,0,0,0,0,0,0, 0,0,0,0,0,0,0,0,0,0, 0,0,0,0,0,0,0,0,0,0,
0,0,0,0,0,0,0,0,0,0, 0,0,0,0,0,0,0,0,0,0, 0,0,0,0,0,0,0,0,0,0, 0,0,0,0,0,0,0,0,0,0, 0,0,0,0,0,0,0,0,0,0,
0,0,0,0,0,0,0,0,0,0, 0,0,0,0,0,0,0,0,0,0, 0,0,0,0,0,0,0,0,0,0, 0,0,0,0,0,0,0,0,0,0, 0,0,-73,65,-20,18,-15,14,-18,16,
-12,17,-14,12,-16,18,-13,15,-17,12, -14,16,-18,14,-15,12,-17,15,-13,16, -14,18,-12,15,-17,13,-16,14,-18,15, -13,16,-20,25,-30,35,-32,38,-36,30, -38,34,-30,37,-35,32,-38,36,-33,30,
35,-38,32,-36,37,-30,34,-38,35,-32, 36,-30,38,-34,30,-25,22,-18,16,-15, 18,-14,12,-17,15,-13,16,-12,14,-15, 13,-11,12,-16,14,-13,17,-12,15,-14, 12,-16,13,-11,15,-14,12,-13,16,-12,
14,-12,10,-13,11,-15,9,-10,12,-11, 15,-13,9,-14,12,-10,13,-11,9,-12, 10,-13,11,-9,12,-10,14,-11,9,-15, 8,-7,6,-5,7,-6,4,-5,6,-4, 5,-6,4,-7,5,-4,6,-5,4,-6,
5,-4,6,-3,5,-6,4,-5,3,-4, 6,-5,4,-3,5,-4,6,-3,4,-5, 3,-4,5,-3,4,-6,5,-4,3,-5, 4,-6,3,-5,4,-3,6,-4,5,-3, 4,-5,3,-6,4,-5,3,-4,5,-3,
-5,3,-4,6,-3,4,-5,3,-4,5, -2,4,-3,5,-4,3,-5,4,-2,3, -4,5,-3,4,-2,5,-3,4,-5,3, -4,2,-5,3,-4,5,-3,4,-2,3, -4,5,-3,2,-4,3,-5,4,-3,2,
3,-4,0,2,-3,0,3,0,-2,0, 2,-3,0,0,3,-2,0,2,0,-3, 0,2,0,0,-2,0,3,0,-2,0, 0,2,-3,0,0,2,0,-2,0,3, 0,0,-2,0,2,0,0,-3,0,2,
0,3,0,-2,0,0,2,0,-3,0, 2,0,0,-2,0,3,0,0,-2,0, 0,2,0,0,-3,0,0,2,0,0, -2,0,0,3,0,0,-2,0,0,0, 0,0,0,0,0,0,0,0,0,0,
0];
const TRIT = [
0,0,1,0,0,0,0,0,0,0, -2,0,0,0,0,0,0,0,1,0, 0,0,0,0,0,0,-1,0,0,0, 0,0,2,0,0,0,0,0,0,0, -1,0,0,0,0,0,0,0,1,0,
0,0,0,0,0,0,-1,0,0,0, 0,0,2,0,0,-1,0,0,0,0, 0,0,0,0,1,0,0,0,0,0, -2,0,0,0,0,0,1,0,0,0, 0,0,0,0,-1,0,0,0,0,0,
0,0,1,0,0,0,0,0,-2,0, 0,0,0,0,1,0,0,0,0,0, 0,0,-1,0,0,0,2,-1,0,0, 0,0,2,-2,1,0,0,0,0,0, 0,0,-3,2,0,0,0,0,0,0,
2,-2,0,0,0,0,1,0,0,0, 0,0,-2,0,0,0,0,0,0,0, 0,0,0,0,0,0,-3,2,0,0, 0,0,0,0,0,0,0,0,0,0, 0,0,0,0,0,0,0,0,0,0,
0,0,0,0,0,0,2,-1,0,0, 0,0,0,0,0,0,0,0,0,0, 2,-2,0,0,0,3,-2,0,0,0, 0,2,0,-3,0,3,-2,5,-6,15, -12,-30,18,-12,15,-14,16,-18,12,-15,
18,-14,20,-16,13,-18,15,-20,18,-14, 22,-17,16,-19,14,-20,17,-13,18,-15, 20,-16,14,-18,12,-15,19,-17,22,-16, 18,-20,25,-22,-64,74,-66,40,-45,35, -55,28,-35,30,-25,28,-22,26,-30,22,
-20,25,-18,43,-25,22,-18,20,-22,17, -15,18,-20,16,-18,22,-15,17,-14,20, -18,15,-17,18,-14,16,-20,15,-18,17, -14,16,-17,15,-19,14,-16,18,-25,15, -13,16,-12,14,-15,13,-11,14,-12,13,
-11,13,-10,12,-14,10,-9,11,-13,10, -12,9,-11,10,-8,7,-6,8,-5,6, -7,5,-6,7,-4,5,-6,4,-5,6, -4,5,-7,6,-4,5,-6,4,-5,7, -6,4,-5,6,-4,5,-3,6,-5,4,
5,-6,4,-3,5,-7,4,-5,6,-3, 4,-5,3,-4,6,-5,4,-3,5,-4, 3,-5,4,-2,3,-4,2,-3,4,-2, 3,0,-2,2,-3,0,2,-2,0,3, -2,0,2,0,-3,2,0,-2,0,2,
-2,0,3,0,-2,4,-5,6,-8,7, -6,8,-7,9,-8,6,-7,8,-6,7, -5,6,-3,4,0,-2,2,0,-2,0, 2,0,-2,0,0,2,0,-2,0,0, 2,0,-2,3,0,-2,0,0,2,0,
0,2,0,-2,0,0,0,2,0,0, -3,0,2,0,0,0,-2,0,0,0, 3,0,-2,0,0,0,2,0,0,0, -2,0,0,2,0,0,0,-2,0,0, 0,2,0,0,0,-2,0,0,0,0,
0,2,0,0,0,-2,0,0,0,2, 0,0,0,-2,0,0,0,0,3,0, 0,0,0,-2,0,0,2,0,0,0, 0,-3,0,0,0,2,0,0,-2,0, 3,-5,6,-8,7,-5,4,-6,3,-2,
2];
const BEDO = [
5,-7,4,-6,8,-3,6,-5,7,-8, 3,-4,6,-7,5,-2,7,-6,4,-5, 8,-4,6,-7,3,-6,5,-8,4,-3, 7,-5,6,-4,2,-7,8,-5,3,-6, 5,-2,6,-7,4,-5,7,-3,5,-6,
4,-5,7,-6,3,-8,6,-4,5,-7, 2,6,-5,8,-4,3,-6,7,-5,4, -3,6,-7,5,-4,6,-4,3,-7,5, -6,8,-3,4,-5,7,-6,2,-4,6, -5,7,-8,3,-2,5,-6,4,-7,6,
-5,4,-6,3,-4,7,-5,2,-6,5, -3,4,-7,6,-2,5,-4,3,-6,4, -3,5,-7,6,-5,8,-4,6,-7,3, 5,-6,4,-8,7,-3,5,-6,4,-5, 8,-7,3,-4,6,-5,7,-2,5,-6,
6,-4,3,-7,5,-6,8,-3,4,-5, 7,-6,2,-4,6,-5,7,-8,3,-2, 5,-6,4,-7,6,-5,4,-6,3,-4, 7,-5,2,-6,5,-3,4,-7,6,-2, 5,-4,3,-6,4,-3,5,-8,6,-4,
-5,4,-6,3,-4,7,-5,2,-6,5, -3,4,-7,6,-2,5,-4,3,-6,4, -3,5,-4,6,-5,3,-7,4,-2,5, -6,4,-3,7,-5,2,-4,6,-5,3, -6,4,-5,7,-12,18,-25,22,-27,25,
30,-22,32,-25,28,-30,20,-27,31,-24, 26,-28,30,-20,27,-32,25,-30,32,-28, 35,-26,28,-35,24,-30,33,-22,29,-31, 26,-34,30,-24,-43,32,-28,35,-30,28, -35,40,-32,38,-30,35,-28,40,-36,32,
-40,45,-52,38,-45,40,-38,50,-42,58, -45,40,-38,45,-35,43,-40,38,-50,42, -58,50,-45,48,-40,55,74,-50,45,-55, 48,-73,52,-45,40,62,-48,50,-55,-65, 52,-45,50,-40,48,-45,42,-38,50,-48,
50,-62,42,-38,45,-40,35,-42,38,45, -35,30,-28,32,-25,30,-28,27,-22,25, -28,24,-30,22,-26,28,-24,20,-25,22, -24,18,-22,25,-20,21,-18,15,-20,12, -12,10,-11,12,-9,10,-8,11,-12,7,
10,-8,11,-12,7,-9,10,-6,8,-11, 9,-7,12,-8,6,-10,9,-7,11,-6, 8,-9,7,-10,8,-7,9,-11,6,-8, 10,-7,12,-9,6,-8,11,-5,9,-10, 7,-6,8,-11,9,-7,6,-9,10,-8,
7,-10,8,-6,11,-9,7,-8,10,-6, 9,-12,8,-7,6,-9,10,-8,12,-7, 9,-6,8,-10,7,-9,8,-11,7,-6, 10,-8,9,-7,11,-10,6,-8,12,-9, 7,-6,10,-8,9,-11,7,-8,10,-7,
-9,8,-11,7,-6,10,-8,9,-7,11, -10,6,-8,12,-9,7,-6,10,-8,9, -11,7,-8,10,-7,9,-10,8,-6,11, -8,9,-12,7,-9,10,-6,8,-11,9, -7,10,-8,6,-9,11,-8,7,-10,9,
8,-10,7,-9,11,-6,8,-10,9,-7, 12,-8,6,-9,10,-7,8,-11,9,-8, 7,-10,11,-6,9,-8,10,-7,8,-12, 9,-7,10,-8,6,-11,9,-7,8,-10, 11,-8,7,-9,10,-6,8,-12,9,-10,
6];
const KOE = [
0,0,0,0,0,0,0,0,0,0, 2,0,0,0,0,0,0,0,0,0, 0,0,0,0,-1,0,0,0,0,0, 0,0,0,0,0,0,0,0,0,0, 1,0,0,0,0,0,0,0,0,0,
0,0,0,0,0,0,0,0,-1,0, 0,0,0,0,0,0,0,0,0,0, 0,0,0,0,0,0,0,0,0,0, 2,0,0,0,0,0,0,0,0,0, 0,0,0,0,0,0,0,0,0,0,
0,0,0,0,0,0,0,0,0,0, 0,0,0,0,0,0,0,0,0,0, 0,0,0,0,0,0,0,0,0,0, 0,0,0,0,0,0,2,0,0,0, 0,0,1,0,0,0,0,0,0,2,
0,0,0,0,0,0,0,0,0,0, 0,0,0,0,0,0,2,0,0,0, 0,0,0,0,0,0,0,0,2,0, 0,0,0,0,0,0,0,0,0,0, 2,0,0,0,0,0,0,0,0,2,
0,0,0,0,-2,0,0,0,0,0, 0,0,0,0,0,0,2,0,0,0, 0,0,0,0,0,0,0,0,0,0, 0,0,0,0,0,0,0,0,0,0, 0,0,0,0,0,0,0,0,0,-2,
-73,49,40,-42,30,-15,18,-12,15,-17, 12,-14,16,-13,18,-15,12,-16,14,-12, 15,-13,17,-14,16,-18,13,-15,12,-17, 14,-12,16,-15,18,-13,15,-17,12,-14, 16,-18,14,-13,17,-15,12,-16,18,-20,
20,-18,-27,22,18,-20,22,-17,19,-21, 18,28,-22,20,-18,24,-20,18,-22,19, -17,21,-19,23,-16,20,-18,24,-21,18, -23,20,-16,22,-19,17,-21,23,-18,20, -17,22,-20,18,-24,21,-17,19,-22,20,
25,-15,18,-23,20,-16,18,-20,12,-10, 11,-9,12,-8,10,-11,9,-8,12,-10, 9,-11,8,-10,7,-9,11,-8,9,-7, 8,-10,7,-6,9,-7,5,-8,6,-7, 5,-4,6,-5,4,-3,5,-4,3,-5,
-4,3,-5,4,-3,5,-2,4,-3,5, -4,3,-2,4,-3,2,-4,3,-2,4, -3,2,-3,4,-2,3,-4,2,-3,5, -4,3,-2,4,-3,5,-2,3,-4,2, -3,4,-2,3,-4,2,-3,5,-2,3,
3,-4,2,-3,4,-2,3,-3,2,-4, 3,-2,4,-3,2,-3,4,-2,3,-2, 2,-3,4,-2,3,-4,2,-3,3,-2, 4,-3,2,-4,3,-2,2,-3,4,-2, 3,-3,2,-4,3,-2,4,-2,3,-3,
-2,3,-3,2,-4,3,-2,3,-2,4, -3,2,-3,2,-4,3,-2,2,-3,4, -2,3,-2,2,-3,4,-2,3,-3,2, -4,2,-3,3,-2,4,-3,2,-2,3, -3,2,-4,3,-2,3,-2,4,-3,2,
2,-3,3,-2,4,-2,3,-3,2,-2, 3,-4,2,-3,2,-2,3,-2,4,-3, 2,-3,2,-2,4,-3,2,-3,3,-2, 2,-4,3,-2,3,-3,2,-2,4,-3, 2,-3,3,-2,2,-4,3,-2,3,-2,
-2];
const GLOK = [
2,-1,3,-2,1,-3,2,0,-2,3, -1,2,-3,1,-1,2,-2,3,-1,1, -2,2,-3,1,0,-2,3,-1,2,-3, 1,-2,2,0,-1,3,-2,1,-3,2, -1,1,-2,3,-1,2,-2,1,0,-3,
2,-2,1,-3,2,0,-1,3,-2,1, -1,2,-3,1,2,-2,0,3,-2,1, -3,2,-1,1,-2,3,-2,1,-1,2, -3,2,0,-2,3,-1,2,-3,1,-2, 2,-1,3,-2,1,-3,2,-1,0,2,
-2,3,-1,2,-3,1,-2,2,0,-1, 3,-2,1,-3,2,-1,1,-2,3,-1, 2,-2,1,0,-3,2,-2,1,-3,2, 0,-1,3,-2,1,-1,2,-3,1,2, -2,0,3,-2,1,-3,2,-1,1,-2,
3,-2,1,-1,2,-3,4,-1,2,-2, 1,-3,2,0,-2,3,-1,2,-3,1, -1,-4,2,-1,3,-2,1,-2,3,-1, 2,-3,1,-1,2,-2,3,-1,1,-3, 2,-2,1,-1,3,-2,1,-3,2,-1,
2,-3,1,-2,3,-1,2,-2,1,-3, 2,-1,1,-2,3,-2,1,-1,2,-3, 1,-2,2,-1,1,-3,2,-1,3,-2, 1,-2,2,-3,1,-1,2,-2,3,-1, 1,-3,2,-2,1,-1,2,-3,1,-2,
2,-1,3,-2,1,-2,3,-1,2,-3, 8,-12,10,-15,18,-14,22,-16,20,-26, 17,-20,23,-18,20,-22,17,-19,21,-16, 24,-18,15,-22,19,-17,20,-24,18,-15, 22,-20,18,-23,16,-21,19,-18,22,-17,
22,-20,25,-22,20,-28,26,-25,30,-22, 28,-32,25,-30,27,-24,32,-28,37,-35, 30,-32,35,-28,30,-38,33,-30,35,-32, 38,57,-73,40,-45,38,47,-40,-56,42, 35,-38,32,-30,35,-28,30,-32,28,-35,
30,-32,28,-35,-49,48,-30,35,41,-35, 25,-22,20,-18,17,-19,16,-20,18,-15, 17,-16,14,-18,15,-13,16,-14,12,-17, 15,-13,18,-16,14,-12,16,-15,13,-17, 14,-12,16,-13,15,-18,12,-14,16,-13,
-15,13,-11,10,-12,9,-14,11,-10,12, -8,11,-10,7,-9,8,-11,6,-8,10, -7,9,-8,6,-10,7,-6,9,-8,7, -9,6,-8,10,-7,5,-8,9,-6,8, -7,6,-9,7,-8,10,-6,7,-5,8,
-6,7,-9,6,-8,10,-7,5,-8,9, -6,8,-7,6,-9,7,-8,10,-6,7, -5,8,-6,7,-9,6,-8,5,-7,9, -6,8,-7,10,-8,-14,6,-7,9,-5, 8,-6,7,-9,6,-8,5,-7,8,-6,
6,-7,5,-8,6,-7,9,11,-10,7, -5,6,-8,4,-6,7,-5,8,-6,4, -7,6,-5,3,-6,5,-4,6,-7,5, -4,6,-5,7,-4,5,-6,4,-7,5, -3,6,-5,4,-6,5,-3,7,-4,6,
-5,4,-6,3,-5,6,-4,3,-5,4, -6,5,-3,4,-5,6,-4,3,-5,4, -3,5,-4,3,-6,5,-4,6,-3,5, -4,3,-6,4,-5,3,-4,6,-5,4, -3,5,-6,4,-3,5,-4,6,-5,4,
4];
const FACH = [
1,-2,0,1,-1,2,0,-1,1,0, -2,1,0,-1,2,-1,0,1,-2,0, 1,-1,0,2,-1,0,1,-1,0,2, -1,0,-2,1,0,1,-1,0,2,0, -1,1,-2,0,1,0,-1,2,0,-1,
1,0,-2,1,0,-1,2,0,-1,1, -2,0,1,0,-1,2,-1,0,1,-2, 0,2,-1,0,1,-1,0,2,-1,0, 1,-2,0,1,-1,0,2,-1,0,-2, 1,0,1,-1,0,2,0,-1,1,0,
-1,2,0,-1,1,0,-2,1,0,2, -1,0,1,-1,0,2,-1,0,1,0, -2,1,0,-1,2,0,-1,1,-2,0, 1,0,-1,2,-1,0,1,-2,0,1, 0,-1,2,0,-1,1,0,-2,1,0,
2,-1,0,1,-2,0,1,-1,2,0, -1,1,0,-2,1,0,2,-1,0,1, -1,0,2,-2,0,1,-1,0,2,-1, 0,1,-2,0,1,-1,0,2,-1,0, 1,-2,0,1,0,-1,2,0,-1,1,
0,-1,2,0,-1,1,0,-2,1,0, 2,-1,0,1,-1,0,2,-1,0,1, -2,0,1,-1,0,2,-1,0,1,-1, 0,2,-1,0,1,-2,0,1,-1,0, 3,1,0,-1,0,1,-1,0,2,-1,
0,1,-1,0,1,-1,0,2,-1,0, 1,0,-5,-73,42,-46,25,-20,24,-18, 22,-25,20,-17,23,-15,18,-22,16,-24, 20,-14,15,-25,18,-20,22,-16,19,-21, 17,-23,15,-18,20,-14,16,-19,13,-15,
14,-16,12,-15,17,-13,11,-14,16,-12, 15,-18,13,-11,16,-14,12,-17,15,-13, 18,-16,20,-14,17,-19,22,-16,18,-20, 16,-22,24,-28,20,-18,26,-22,19,-24, 22,-20,26,-25,30,-22,28,-25,45,-42,
32,-30,28,-25,27,-22,-38,28,-25,27, -22,24,-20,26,-22,20,-24,18,30,-29, 22,-20,18,-22,19,-16,21,25,-18,15, -13,14,-12,13,-15,11,-12,14,-10,13, -11,12,-10,13,-12,11,-9,12,-10,11,
11,-13,10,-9,12,-10,8,-11,9,-12, 10,-8,11,-9,7,-10,8,-6,9,-7, 8,-6,7,-5,6,-7,5,-6,4,-5, 6,-4,5,-6,4,-5,3,-6,5,-4, 5,-3,4,-6,5,-4,3,-5,4,-3,
-4,5,-3,4,-6,3,-4,5,-3,4, -2,5,-4,3,-5,4,-3,6,-4,3, -5,4,-3,2,-4,5,-3,4,-5,3, -4,6,-3,4,-2,5,-4,3,-5,4, -3,5,-4,2,-3,4,-5,3,-4,2,
3,-4,5,-3,4,-2,3,-5,4,-3, 2,-4,3,-2,4,-3,5,-4,3,-2, 4,-3,2,-4,3,-5,4,-2,3,-4, 5,-3,2,-4,3,-2,4,-3,5,-4, 3,-2,4,-3,2,-5,3,-4,2,-3,
-3,4,-2,3,-4,2,-3,4,-5,3, -2,4,-3,2,-4,3,-2,4,-3,2, -3,4,-2,3,-3,5,-2,3,-4,2, -3,4,-2,3,-4,2,-3,5,-2,3, -4,2,-3,4,-2,3,-3,2,-4,4,
4];
const TDN = [
3,-4,2,-5,4,-3,5,-2,3,-4, 6,-3,2,-5,4,-2,3,-4,5,-3, 2,-4,3,-2,4,-3,5,-2,4,-4, 3,-5,2,4,-3,2,-5,3,-2,4, -3,5,-4,2,-3,4,-2,3,-5,2,
4,-3,2,-4,5,-3,2,-2,4,-5, 3,-2,4,-3,2,-4,5,-2,3,-4, 6,-3,2,-4,3,-5,2,4,-3,5, -2,3,-4,2,-5,4,-3,2,-4,3, -2,5,-3,4,-2,3,-4,2,-5,3,
-2,4,-3,5,-4,2,-3,4,-2,3, -5,3,-2,4,-3,6,-4,2,-3,4, -2,5,-3,2,-4,3,-5,2,4,-3, 2,-4,3,-2,5,-3,2,-4,3,-5, 4,-2,3,-4,2,-3,5,-2,4,-3,
3,-4,2,-3,5,-2,4,-3,2,-4, 3,-2,4,-3,2,5,8,10,4,-3, -2,3,-4,2,-3,5,6,9,3,-2, -4,3,-2,4,-3,2,-5,3,-2,4, -3,2,-4,3,-5,-2,-6,-9,-12,-8,
-4,2,5,3,-2,4,-3,2,-4,3, 5,8,10,6,-2,-6,-10,-7,2,4, 8,12,9,3,-5,-12,-15,-9,0,6, 12,15,10,2,-6,-10,-6,0,3,-2, 4,-3,2,-4,3,-2,4,-3,2,-3,
3,-2,4,-3,2,-4,3,-2,4,-3, 2,-4,3,-2,5,-3,2,-4,3,-2, 4,-3,2,-4,3,-2,4,-3,-12,25, -20,30,-18,27,-24,33,-22,-27,30,-25, 28,-32,35,-30,26,-28,44,-30,35,-25,
-32,28,-30,35,-25,-41,30,-25,27,-22, 30,-24,20,-28,25,-22,27,-20,24,-26, 22,-19,25,-23,20,-27,24,-21,28,-25, 22,-26,20,-24,27,-22,25,-20,23,-28, 26,-24,30,-22,27,-25,32,-28,30,-26,
25,-28,30,-32,35,-30,38,-35,40,-38, 32,-35,49,-38,42,-36,-47,40,-38,42, -40,35,-42,38,-40,58,-45,40,-73,45, -40,42,-45,38,59,-53,45,-42,40,-38, 42,48,-40,35,37,-35,30,-32,28,-30,
-37,25,-22,24,-20,18,-22,25,-20,23, -18,22,-24,20,-21,18,-20,15,-13,12, -15,11,-10,13,-9,11,-12,10,-8,12, -10,9,-11,8,-12,10,-9,11,-8,12, -10,9,-11,8,-10,12,-9,8,-11,10,
10,-9,11,-8,12,-10,9,-11,8,-10, 12,-9,11,-8,10,-12,9,-8,11,-10, 8,-9,12,-11,9,-10,8,-12,11,-9, 10,-8,12,-10,9,-11,8,-9,12,-10, 9,-11,10,-8,12,-9,11,-10,8,-9,
-8,10,-12,9,-8,11,-9,10,-7,12, -10,8,-11,9,-8,10,-9,12,-8,9, -11,10,-8,9,-10,12,-9,8,-11,10, -9,12,-8,10,-11,9,-8,16,-12,9, -10,8,-11,9,-12,10,-8,11,-9,10,
9,-8,11,-10,8,-9,12,-8,10,-11, 9,-8,10,-9,11,-7,9,-10,8,-12, 10,-8,9,-7,10,-11,9,-8,12,-10, 8,-9,11,-10,9,-8,12,-11,10,-9, 8,-10,11,-9,10,-8,9,-11,10,-9,
-8];
const TNS = [
2,-1,3,-2,1,0,-2,2,-1,3, -2,0,1,-3,2,-1,1,0,-2,2, -1,3,-1,0,-2,1,-2,2,0,-1, 3,-2,1,-1,2,-3,1,0,-2,2, -1,3,-2,1,0,-1,2,-2,1,-3,
2,-1,0,2,-2,1,-1,3,-2,0, 2,-1,1,-3,2,-1,0,2,-2,1, -1,2,0,-2,1,-1,2,-2,1,0, -1,3,-2,1,-1,2,0,-2,1,-1, 2,-3,1,0,-1,2,-1,1,-2,0,
1,-1,2,0,-2,1,-1,3,-1,0, 2,-2,1,-1,2,0,-1,3,-2,1, -1,0,2,-1,1,-1,2,0,-2,1, -1,3,-2,1,0,-1,2,-2,1,-1, 0,2,-3,1,-1,2,0,-2,1,0,
-1,2,-2,1,0,-1,3,-2,1,-1, 2,0,-2,1,-1,2,-3,1,0,-1, 2,-1,1,-2,0,1,-1,2,0,-2, 1,-1,3,-2,1,0,-1,2,-2,1, -1,0,2,-1,1,-2,2,0,-1,1,
1,-1,2,0,-2,1,-1,3,-1,0, 2,-2,1,-1,2,0,-1,3,-2,1, -1,0,2,-1,1,-2,1,0,-1,2, -2,1,-1,3,-2,0,1,-1,2,-2, 0,1,-1,2,-2,1,0,-1,2,-1,
-1,2,0,-2,1,-1,3,-2,1,0, -1,2,-2,1,0,-1,2,-1,1,-2, 4,-3,1,0,-1,2,-2,1,-1,0, 2,-2,1,-1,2,0,-1,3,-2,1, -1,2,-2,1,0,-1,2,-1,1,-2,
1,-2,2,-1,2,-3,1,-2,-11,40, -15,18,-12,-22,20,-18,15,-20,18,-15, 20,-16,73,-51,30,44,-20,22,-18,25, -22,20,-29,18,-15,20,-17,15,-20,16, -14,17,-15,12,-18,16,-13,19,-14,15,
17,-15,12,-18,16,-13,19,-14,15,-20, 13,-16,18,-12,14,-17,15,-19,12,-14, 16,-13,17,-15,14,-18,16,-12,15,-17, 13,-19,16,-14,18,-15,12,-17,14,-16, 18,-13,15,-20,16,-14,17,-15,13,-18,
16,-18,20,-15,22,-17,19,-20,18,-22, 24,-20,25,-22,28,-24,30,-28,25,-30, -36,30,-28,33,-30,26,-32,28,37,-30, 26,-32,28,49,-35,30,-28,32,-30,27, -33,28,-30,25,-32,30,-27,33,-28,26,
-34,25,31,-15,14,-12,13,-15,11,-13, 14,-12,10,-14,12,-11,13,-10,12,-13, 11,-9,12,-14,10,-12,11,-13,9,-12, 10,-14,12,-11,13,-10,12,-9,11,-13, 10,-12,9,-20,12,-11,13,-10,12,-11,
10,-12,9,-11,13,-10,8,-12,11,-9, 10,-13,12,-8,10,-11,9,-12,-20,10, -11,9,-12,8,-10,11,-9,12,-8,9, -10,8,-11,9,-12,10,-8,11,-9,10, -8,9,-11,10,-7,9,-10,8,-11,9,
-8,9,-7,10,-9,6,-8,7,-10,8, -6,9,-7,8,-6,7,-9,6,-8,7, -5,8,-9,6,-7,8,-6,9,-7,5, -8,7,-6,9,-5,8,-7,6,-9,7, -6,8,-5,7,-8,6,-9,7,-6,8,
8];

const traces = [BGG,PYRM,BEUR,KOGO,OCHT,RHEN,ABH,NMED,OMED,LAGB,BEMS,GWBD,TRIT,BEDO,KOE,GLOK,FACH,TDN,TNS];

const chart = echarts.init(document.getElementById('c'), null, {renderer: 'canvas'});
const FONT = '"Liberation Sans", Arial, Helvetica, sans-serif';
const LEFT = 173, RIGHT = 33, TOP0 = 107, PH = 160;
const grids = [], xAxes = [], yAxes = [], series = [];
const n = stations.length;
for (let i = 0; i < n; i++) {
  grids.push({left: LEFT, right: RIGHT, top: TOP0 + PH * i, height: PH, show: true,
    borderColor: '#000', borderWidth: 2, backgroundColor: 'transparent', containLabel: false});
  const last = i === n - 1;
  xAxes.push({type: 'value', gridIndex: i, min: 0, max: 60, interval: 20,
    axisLine: {show: false, onZero: false},
    axisTick: {show: true, inside: true, length: 5, lineStyle: {color: '#000', width: 2}},
    splitLine: {show: false},
    axisLabel: {show: last, color: '#000', fontSize: 32, fontFamily: FONT, margin: 7,
      showMaxLabel: false,
      formatter: v => xTickLabels.indexOf(v) >= 0 ? String(v) : ''}
  });
  yAxes.push({type: 'value', gridIndex: i, min: -80, max: 80, interval: 80,
    axisLine: {show: false, onZero: false}, axisTick: {show: false}, splitLine: {show: false},
    axisLabel: {show: true, color: '#000', fontSize: 37, fontFamily: FONT, margin: 20,
      formatter: v => v === 0 ? stations[i] : ''}
  });
  series.push({type: 'line', xAxisIndex: i, yAxisIndex: i,
    data: traces[i].map((v, k) => [+(k * DT).toFixed(2), v]),
    showSymbol: false, symbol: 'none', silent: true, clip: true,
    lineStyle: {color: '#000', width: 1.6}, animation: false});
}

chart.setOption({
  backgroundColor: '#fff',
  animation: false,
  grid: grids, xAxis: xAxes, yAxis: yAxes, series: series,
  graphic: [
    {type: 'text', x: 1075, y: 81, style: {text: titleText, font: 'bold 36px ' + FONT,
      textAlign: 'center', textVerticalAlign: 'middle', fill: '#000'}},
    {type: 'text', x: 978, y: 3214, style: {text: xName, font: 'bold 35px ' + FONT,
      textAlign: 'center', textVerticalAlign: 'middle', fill: '#000'}}
  ]
});
</script>
</body></html>
